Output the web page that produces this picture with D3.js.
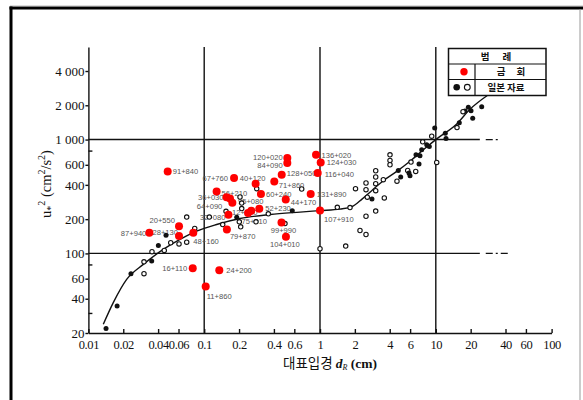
<!DOCTYPE html>
<html>
<head>
<meta charset="utf-8">
<script src="https://cdn.jsdelivr.net/npm/d3@7"></script>
<style>
body { margin: 0; background: #fff; }
svg { display: block; }
.axis text { font-family: "Liberation Serif", serif; font-size: 13px; fill: #111; }
.xaxis text { font-size: 12.5px; letter-spacing: -0.4px; }
.axis path, .axis line { stroke: #111; stroke-width: 1.4; }
.lbl { font-family: "Liberation Sans", Arial, sans-serif; font-size: 7.6px; fill: #555; }
.kr { font-family: "Noto Sans CJK KR", sans-serif; font-weight: bold; fill: #111; }
</style>
</head>
<body>
<div id="chart"></div>
<script>
// axis ticks
var xTicks = [0.01, 0.02, 0.04, 0.06, 0.1, 0.2, 0.4, 0.6, 1, 2, 4, 6, 10, 20, 40, 60, 100];
var xTickLabels = ["0.01", "0.02", "0.04", "0.06", "0.1", "0.2", "0.4", "0.6", "1", "2", "4", "6", "10", "20", "40", "60", "100"];
var yTicks = [20, 40, 60, 100, 200, 400, 600, 1000, 2000, 4000];
var yTickLabels = ["20", "40", "60", "100", "200", "400", "600", "1 000", "2 000", "4 000"];
var yMinorTicks = [30, 80, 800];
var gridX = [0.1, 1, 10];
var gridY = [100, 1000];

// 금회 (red) points: station, d_R (cm), u*^2 (cm2/s2)
var redLabels = ["91+840","67+760","40+120","56+210","36+030","95+080","64+090","32+080","12+410","75+010",
                 "52+230","60+240","79+870","87+940","20+550","28+130","48+160","16+110","11+860","24+200",
                 "44+170","71+860","128+050","120+020","84+090","136+020","124+030","116+040","131+890","107+910",
                 "99+990","104+010"];
var redD = [0.0484,0.181,0.278,0.128,0.156,0.167,0.175,0.162,0.239,0.255,
            0.299,0.309,0.157,0.0336,0.0606,0.0606,0.0805,0.0796,0.103,0.135,
            0.506,0.403,0.467,0.522,0.522,0.924,1.014,0.955,0.831,1.0,
            0.465,0.508];
var redU = [525,459,409,349,312,303,278,219,226,237,
            247,333,162,152,173,142,152,74,51.2,71,
            297,429,491,687,622,735,630,508,333,238,
            187,140];

// 일본 자료 points (1 = filled, 0 = open)
var jpD = [0.0142,0.0177,0.0233,0.0302,0.0302,0.0352,0.0354,0.0402,0.0452,0.0514,
           0.0468,0.0606,0.0706,0.0706,0.0828,0.1107,0.1445,0.1543,0.2038,0.2108,
           0.2108,0.1909,0.201,0.2066,0.280,0.284,0.3578,0.5765,0.4984,0.695,
           1.0,1.411,1.816,1.667,2.215,2.496,2.496,3.027,3.592,2.026,
           2.496,2.496,3.027,3.027,3.027,3.027,2.561,2.812,4.62,3.522,
           4.022,4.022,4.022,4.745,4.977,6.108,5.719,5.869,5.987,6.706,
           7.161,6.745,7.30,7.553,7.706,8.348,8.789,9.218,10.18,9.783,
           12.08,12.25,15.24,15.96,17.87,19.09,20.14,20.83,17.18,24.91];
var jpU = [21.9,34.6,66.2,66.4,84.3,85.6,103.5,117.5,106.2,124.1,
           144.5,121.1,125.6,208.6,165.5,208.6,179.3,234.4,313,276.6,
           247.5,207.8,189.4,171.3,189.4,370.5,222.5,236.4,183,368,
           109.9,254,252.6,115.9,158.9,146.6,212.1,235.4,307.1,370.5,
           415.5,363,532.3,468.8,409.6,355.7,312,301,430.8,444,
           734.6,655.2,600.6,535.5,468.8,634.4,535.5,508,481.3,524.8,
           609,734.6,720,812.7,954.8,898.6,868.5,1071,629.3,1266,
           1138,1024,1274,1408,1783,1921,1793,1539,1758,1944];
var jpFill = [1,1,1,0,0,1,0,1,0,0,
              1,0,0,0,0,0,0,0,0,0,
              0,1,0,0,0,0,0,1,0,0,
              0,0,0,0,0,0,0,0,0,0,
              0,0,0,0,0,0,0,1,0,0,
              0,0,0,1,1,0,0,1,1,0,
              1,1,1,1,0,1,1,0,0,1,
              1,1,0,1,1,1,1,1,0,1];

// fitted curve
var curveD = [0.01345,0.0164,0.0214,0.0298,0.0443,0.0618,0.0861,0.128,0.204,0.370,0.672,1.0,
              1.488,1.889,2.305,2.796,3.522,4.597,5.987,7.80,10.18,15.16,19.74,28.24];
var curveU = [23.9,37.0,59.2,80.1,108.4,132.6,156.7,179.3,202.4,219.4,230.7,237.8,
              245.1,257.8,299.9,355.7,435.1,524.8,644.7,812.7,1014,1372,1845,2461];

// label placement around each red dot: [dx, dy, anchor]
var labelPlace = {
	"91+840":[5,3,"start"], "67+760":[-6,3,"end"], "40+120":[-3,-3,"middle"], "56+210":[5,4,"start"],
	"36+030":[-3,3,"end"], "95+080":[8,5,"start"], "64+090":[-10,6.5,"end"], "32+080":[-3,5,"end"],
	"12+410":[-16,1.5,"start"], "75+010":[3,13.5,"middle"], "52+230":[6,2,"start"], "60+240":[5,3,"start"],
	"79+870":[3,9,"start"], "87+940":[-3,3.5,"end"], "20+550":[-4,-3,"end"], "28+130":[-1,-1.5,"end"],
	"48+160":[0,11.5,"start"], "16+110":[-5.5,3,"end"], "11+860":[1,12.5,"start"], "24+200":[7,3,"start"],
	"44+170":[5,5.5,"start"], "71+860":[4.5,6.5,"start"], "128+050":[5,1,"start"], "120+020":[-4.5,1.5,"end"],
	"84+090":[-4.5,4.5,"end"], "136+020":[5.5,3,"start"], "124+030":[6,3,"start"], "116+040":[7,3.5,"start"],
	"131+890":[6,3.5,"start"], "107+910":[4,11.5,"start"], "99+990":[2,10.5,"middle"], "104+010":[-1,10.5,"middle"]
};

var W = 583, H = 400;
var svg = d3.select("#chart").append("svg")
	.attr("width", W)
	.attr("height", H);

// page frame
svg.append("line").attr("x1", 10).attr("x2", 583).attr("y1", 5.5).attr("y2", 5.5)
	.attr("stroke", "#ddd").attr("stroke-width", 1);
svg.append("line").attr("x1", 9.5).attr("x2", 583).attr("y1", 8).attr("y2", 8)
	.attr("stroke", "#000").attr("stroke-width", 3);
svg.append("line").attr("x1", 11).attr("x2", 11).attr("y1", 6.5).attr("y2", 400)
	.attr("stroke", "#000").attr("stroke-width", 3);
svg.append("line").attr("x1", 580).attr("x2", 580).attr("y1", 9).attr("y2", 400)
	.attr("stroke", "#999").attr("stroke-width", 1);

var x = d3.scaleLog().domain([0.01, 100]).range([88.4, 551.6]);
var y = d3.scaleLog().domain([20, 6500]).range([333, 47]);

// grid lines
svg.selectAll("line.gx")
	.data(gridX)
	.enter()
	.append("line")
	.attr("class", "gx")
	.attr("x1", function(d){ return x(d); })
	.attr("x2", function(d){ return x(d); })
	.attr("y1", y(6500))
	.attr("y2", y(20))
	.attr("stroke", "#111")
	.attr("stroke-width", 1.4);

svg.selectAll("line.gy")
	.data(gridY)
	.enter()
	.append("line")
	.attr("class", "gy")
	.attr("x1", x(0.01))
	.attr("x2", x(24))
	.attr("y1", function(d){ return y(d); })
	.attr("y2", function(d){ return y(d); })
	.attr("stroke", "#111")
	.attr("stroke-width", 1.4);

svg.selectAll("line.gyd")
	.data(gridY)
	.enter()
	.append("line")
	.attr("class", "gyd")
	.attr("x1", x(27))
	.attr("x2", function(d){ return d == 100 ? x(44) : x(35); })
	.attr("y1", function(d){ return y(d); })
	.attr("y2", function(d){ return y(d); })
	.attr("stroke", "#111")
	.attr("stroke-width", 1.3)
	.attr("stroke-dasharray", "7,3,2,3");

// axes
var xAxis = d3.axisBottom(x)
	.tickValues(xTicks)
	.tickFormat(function(d, i){ return xTickLabels[i]; })
	.tickSize(-4)
	.tickSizeOuter(0)
	.tickPadding(7);
svg.append("g")
	.attr("class", "axis xaxis")
	.attr("transform", "translate(0," + y(20) + ")")
	.call(xAxis);

var yAxis = d3.axisLeft(y)
	.tickValues(yTicks)
	.tickFormat(function(d, i){ return yTickLabels[i]; })
	.tickSize(3)
	.tickSizeOuter(0)
	.tickPadding(1);
svg.append("g")
	.attr("class", "axis")
	.attr("transform", "translate(" + x(0.01) + ",0)")
	.call(yAxis);

var yMinor = d3.axisRight(y).tickValues(yMinorTicks).tickFormat("").tickSize(4);
var gm = svg.append("g")
	.attr("class", "axis")
	.attr("transform", "translate(" + x(0.01) + ",0)")
	.call(yMinor);
gm.select(".domain").remove();

// red labels (drawn under the marks)
svg.selectAll("text.lbl")
	.data(redLabels)
	.enter()
	.append("text")
	.attr("class", "lbl")
	.attr("x", function(d, i){ return x(redD[i]) + labelPlace[d][0]; })
	.attr("y", function(d, i){ return y(redU[i]) + labelPlace[d][1]; })
	.attr("text-anchor", function(d){ return labelPlace[d][2]; })
	.text(function(d){ return d; });

// fitted curve
var pts = curveD.map(function(d, i){ return [d, curveU[i]]; });
var line = d3.line()
	.x(function(d){ return x(d[0]); })
	.y(function(d){ return y(d[1]); })
	.curve(d3.curveMonotoneX);
svg.append("path")
	.datum(pts)
	.attr("d", line)
	.attr("fill", "none")
	.attr("stroke", "#111")
	.attr("stroke-width", 1.4);

// japanese data
svg.selectAll("circle.jp")
	.data(jpD)
	.enter()
	.append("circle")
	.attr("class", "jp")
	.attr("cx", function(d){ return x(d); })
	.attr("cy", function(d, i){ return y(jpU[i]); })
	.attr("r", function(d, i){ return jpFill[i] ? 2.5 : 2.2; })
	.attr("fill", function(d, i){ return jpFill[i] ? "#111" : "#fff"; })
	.attr("stroke", "#111")
	.attr("stroke-width", function(d, i){ return jpFill[i] ? 0 : 1.1; });

// red points
svg.selectAll("circle.red")
	.data(redD)
	.enter()
	.append("circle")
	.attr("class", "red")
	.attr("cx", function(d){ return x(d); })
	.attr("cy", function(d, i){ return y(redU[i]); })
	.attr("r", 4)
	.attr("fill", "#ff0000");

// axis titles
var yt = svg.append("text")
	.attr("transform", "translate(51,184) rotate(-90)")
	.attr("text-anchor", "middle")
	.style("font-family", "'Liberation Serif', serif")
	.style("font-size", "14.5px")
	.attr("fill", "#111");
yt.append("tspan").text("u");
yt.append("tspan").attr("dy", 3).style("font-size", "10px").text("*");
yt.append("tspan").attr("dy", -9).style("font-size", "10px").text("2");
yt.append("tspan").attr("dy", 6).text(" (cm");
yt.append("tspan").attr("dy", -6).style("font-size", "10px").text("2");
yt.append("tspan").attr("dy", 6).text("/s");
yt.append("tspan").attr("dy", -6).style("font-size", "10px").text("2");
yt.append("tspan").attr("dy", 6).text(")");

var xt = svg.append("text")
	.attr("x", 330)
	.attr("y", 368)
	.attr("text-anchor", "middle")
	.attr("fill", "#111")
	.style("font-size", "13.5px");
xt.append("tspan").style("font-family", "'Noto Sans CJK KR', sans-serif").text("대표입경 ");
xt.append("tspan").style("font-family", "'Liberation Serif', serif").style("font-style", "italic").style("font-weight", "bold").text("d");
xt.append("tspan").attr("dy", 2).style("font-family", "'Liberation Serif', serif").style("font-style", "italic").style("font-size", "8px").text("R");
xt.append("tspan").attr("dy", -2).style("font-family", "'Liberation Serif', serif").style("font-weight", "bold").text(" (cm)");

// legend
var lg = svg.append("g");
lg.append("rect").attr("x", 448.5).attr("y", 48.5).attr("width", 97.5).attr("height", 47)
	.attr("fill", "#fff").attr("stroke", "#111").attr("stroke-width", 1.5);
lg.append("line").attr("x1", 448.5).attr("x2", 546).attr("y1", 64).attr("y2", 64).attr("stroke", "#111").attr("stroke-width", 1.2);
lg.append("line").attr("x1", 448.5).attr("x2", 546).attr("y1", 79.5).attr("y2", 79.5).attr("stroke", "#111").attr("stroke-width", 1.2);
lg.append("line").attr("x1", 475).attr("x2", 475).attr("y1", 64).attr("y2", 95.5).attr("stroke", "#111").attr("stroke-width", 1.2);
lg.append("text").attr("class", "kr").attr("x", 496).attr("y", 59.5).attr("text-anchor", "middle")
	.style("font-size", "9.5px").attr("xml:space", "preserve").text("범      례");
lg.append("circle").attr("cx", 464).attr("cy", 71.7).attr("r", 3.7).attr("fill", "#ff0000");
lg.append("text").attr("class", "kr").attr("x", 511).attr("y", 75.2).attr("text-anchor", "middle")
	.style("font-size", "9.5px").attr("xml:space", "preserve").text("금     회");
lg.append("circle").attr("cx", 456.7).attr("cy", 87.3).attr("r", 3.3).attr("fill", "#111");
lg.append("circle").attr("cx", 467.3).attr("cy", 87.3).attr("r", 2.9).attr("fill", "#fff").attr("stroke", "#111").attr("stroke-width", 1.1);
lg.append("text").attr("class", "kr").attr("x", 506).attr("y", 91).attr("text-anchor", "middle")
	.style("font-size", "9.5px").text("일본 자료");
</script>
</body>
</html>
